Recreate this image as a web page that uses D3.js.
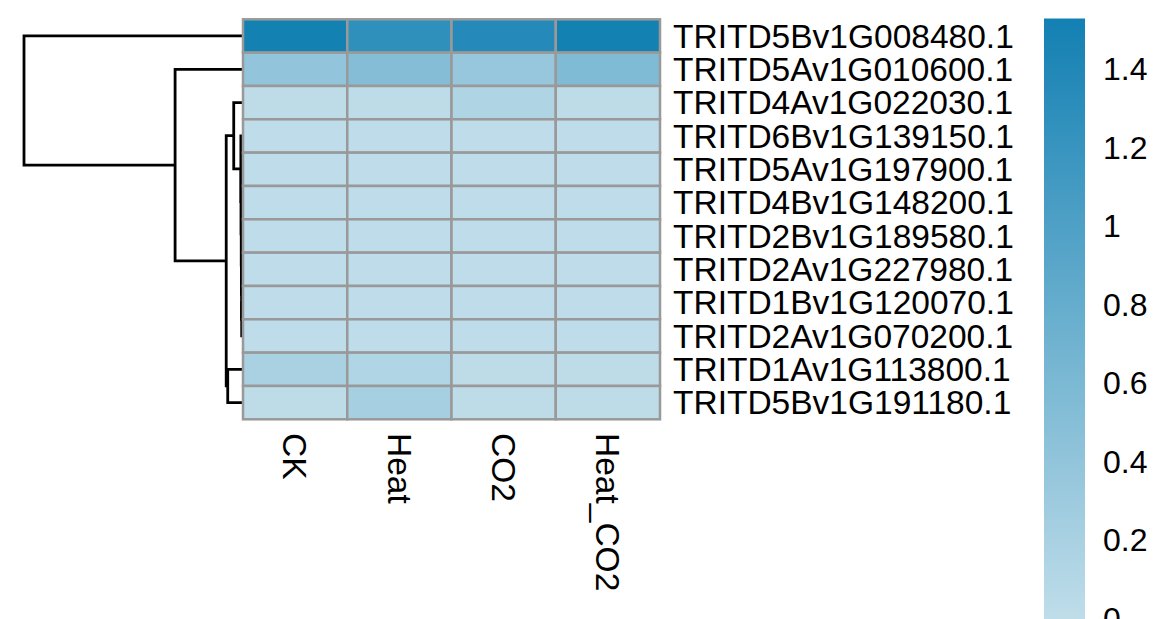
<!DOCTYPE html>
<html>
<head>
<meta charset="utf-8">
<script src="https://cdn.jsdelivr.net/npm/d3@7"></script>
<style>
  body { margin: 0; background: #fff; }
  text { font-family: "Liberation Sans", Arial, sans-serif; fill: #000; }
</style>
</head>
<body>
<script>
// Rows in display order (after clustering)
var rowNames = [
  "TRITD5Bv1G008480.1", "TRITD5Av1G010600.1", "TRITD4Av1G022030.1",
  "TRITD6Bv1G139150.1", "TRITD5Av1G197900.1", "TRITD4Bv1G148200.1",
  "TRITD2Bv1G189580.1", "TRITD2Av1G227980.1", "TRITD1Bv1G120070.1",
  "TRITD2Av1G070200.1", "TRITD1Av1G113800.1", "TRITD5Bv1G191180.1"
];
var colNames = ["CK", "Heat", "CO2", "Heat_CO2"];

// values per column, same order as rowNames
var ck      = [1.52, 0.40, 0.02, 0.01, 0.01, 0.01, 0.01, 0.01, 0.01, 0.01, 0.19, 0.02];
var heat    = [1.27, 0.52, 0.02, 0.01, 0.01, 0.01, 0.01, 0.01, 0.01, 0.01, 0.13, 0.22];
var co2     = [1.37, 0.36, 0.14, 0.01, 0.01, 0.01, 0.01, 0.01, 0.01, 0.01, 0.02, 0.02];
var heatCo2 = [1.52, 0.56, 0.02, 0.01, 0.01, 0.01, 0.01, 0.01, 0.01, 0.01, 0.02, 0.02];

// row dendrogram, hclust style: negative = leaf (1-based row), positive = earlier merge
var mergeLeft   = [-9, -8, -7, -6, -5, -4, -3, -11, 7, -2, -1];
var mergeRight  = [-10, 1, 2, 3, 4, 5, 6, -12, 8, 9, 10];
var mergeHeight = [0.004, 0.006, 0.008, 0.010, 0.012, 0.015, 0.11, 0.19, 0.21, 0.89, 2.9];

// legend
var legendMax = 1.53;
var legendTicks = [0, 0.2, 0.4, 0.6, 0.8, 1, 1.2, 1.4];
var legendLabels = ["0", "0.2", "0.4", "0.6", "0.8", "1", "1.2", "1.4"];

var svgWidth = 1170;
var svgHeight = 619;

var svg = d3.select("body")
  .append("svg")
  .attr("width", svgWidth)
  .attr("height", svgHeight);

var columns = [ck, heat, co2, heatCo2];
var cells = [];
rowNames.forEach(function(r, i) {
  colNames.forEach(function(c, j) {
    cells.push({ row: r, col: c, value: columns[j][i] });
  });
});

// scales
var xScale = d3.scaleBand().domain(colNames).range([243, 660]);
var yScale = d3.scaleBand().domain(rowNames).range([19.3, 419.3]);
var color = d3.scaleLinear()
  .domain([0, legendMax])
  .range(["#bfdde9", "#1380b3"])
  .interpolate(d3.interpolateRgb);
var hScale = d3.scaleLinear()
  .domain([0, d3.max(mergeHeight)])
  .range([242, 24]);

// dendrogram
var nodes = [];
function pos(k) {
  if (k < 0) {
    var name = rowNames[-k - 1];
    return { x: hScale(0), y: yScale(name) + yScale.bandwidth() / 2 };
  }
  return nodes[k - 1];
}
var dendro = svg.append("g");
mergeHeight.forEach(function(h, i) {
  var a = pos(mergeLeft[i]);
  var b = pos(mergeRight[i]);
  var nx = hScale(h);
  dendro.append("path")
    .attr("d", "M" + a.x + "," + a.y + "H" + nx + "V" + b.y + "H" + b.x)
    .attr("fill", "none")
    .attr("stroke", "#000")
    .attr("stroke-width", 2.8);
  nodes.push({ x: nx, y: (a.y + b.y) / 2 });
});

// heatmap cells
svg.append("g")
  .selectAll("rect")
  .data(cells)
  .enter()
  .append("rect")
  .attr("x", d => xScale(d.col))
  .attr("y", d => yScale(d.row))
  .attr("width", xScale.bandwidth())
  .attr("height", yScale.bandwidth())
  .attr("fill", d => color(d.value))
  .attr("stroke", "#999999")
  .attr("stroke-width", 2.5);

// row labels
svg.append("g")
  .selectAll("text")
  .data(rowNames)
  .enter()
  .append("text")
  .attr("x", 673)
  .attr("y", d => yScale(d) + yScale.bandwidth() / 2)
  .attr("dy", "0.35em")
  .style("font-size", "33.5px")
  .text(d => d);

// column labels
svg.append("g")
  .selectAll("text")
  .data(colNames)
  .enter()
  .append("text")
  .attr("transform", d => "translate(" + (xScale(d) + xScale.bandwidth() / 2) + ",433) rotate(90)")
  .attr("dy", "0.35em")
  .style("font-size", "33.5px")
  .text(d => d);

// legend
var legendScale = d3.scaleLinear().domain([0, legendMax]).range([619, 18.5]);
var grad = svg.append("defs").append("linearGradient")
  .attr("id", "legendGrad")
  .attr("x1", 0).attr("y1", 1).attr("x2", 0).attr("y2", 0);
d3.range(0, 11).forEach(function(k) {
  grad.append("stop")
    .attr("offset", k / 10)
    .attr("stop-color", color(legendMax * k / 10));
});
svg.append("rect")
  .attr("x", 1044)
  .attr("y", legendScale(legendMax))
  .attr("width", 41)
  .attr("height", legendScale(0) - legendScale(legendMax))
  .attr("fill", "url(#legendGrad)");

var legendAxis = d3.axisRight(legendScale)
  .tickValues(legendTicks)
  .tickFormat((d, i) => legendLabels[i])
  .tickSize(0)
  .tickPadding(18);
var lg = svg.append("g")
  .attr("transform", "translate(1085,0)")
  .call(legendAxis);
lg.select(".domain").remove();
lg.selectAll("text")
  .style("font-size", "32px")
  .style("font-family", "'Liberation Sans', Arial, sans-serif");
</script>
</body>
</html>
